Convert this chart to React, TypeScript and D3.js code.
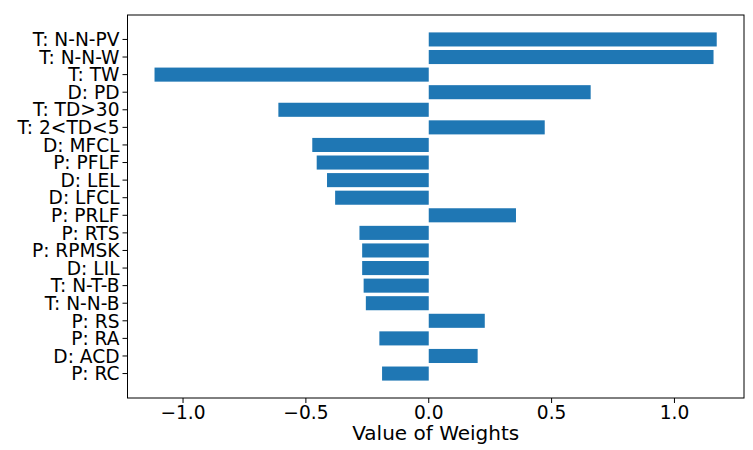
import { FC, useMemo } from 'react';
import * as d3 from 'd3';

const features = [
  'T: N-N-PV', 'T: N-N-W', 'T: TW', 'D: PD', 'T: TD>30', 'T: 2<TD<5',
  'D: MFCL', 'P: PFLF', 'D: LEL', 'D: LFCL', 'P: PRLF', 'P: RTS',
  'P: RPMSK', 'D: LIL', 'T: N-T-B', 'T: N-N-B', 'P: RS', 'P: RA',
  'D: ACD', 'P: RC',
];
const weights = [
  1.172, 1.159, -1.116, 0.659, -0.612, 0.472,
  -0.474, -0.456, -0.414, -0.381, 0.355, -0.282,
  -0.271, -0.271, -0.265, -0.256, 0.228, -0.201,
  0.199, -0.19,
];
const xTicks = [-1.0, -0.5, 0.0, 0.5, 1.0];

const WIDTH = 753, HEIGHT = 450;
const MARGIN = { top: 15, right: 9, bottom: 52, left: 127.5 };
const FONT = 'DejaVu Sans, sans-serif';

const App: FC = () => {
  const boundsWidth = WIDTH - MARGIN.left - MARGIN.right;
  const boundsHeight = HEIGHT - MARGIN.top - MARGIN.bottom;

  const xScale = useMemo(() =>
    d3.scaleLinear().domain([-1.226, 1.283]).range([0, boundsWidth]), [boundsWidth]);

  // matplotlib barh: index positions, bar height 0.8, 5% margins
  const n = features.length;
  const yScale = useMemo(() =>
    d3.scaleLinear().domain([-1.39, n - 1 + 1.39]).range([0, boundsHeight]), [n, boundsHeight]);

  const barH = yScale(0.8) - yScale(0);

  return (
    <svg width={WIDTH} height={HEIGHT} style={{ position: 'absolute', top: 0, left: 0 }}
      fontFamily={FONT}>
      <rect width={WIDTH} height={HEIGHT} fill="#fff" />
      <g transform={`translate(${MARGIN.left},${MARGIN.top})`}>
        {weights.map((w, i) => (
          <rect key={features[i]}
            x={xScale(Math.min(0, w))}
            y={yScale(i) - barH / 2}
            width={Math.abs(xScale(w) - xScale(0))}
            height={barH}
            fill="#1f77b4" />
        ))}
        <rect x={0} y={0} width={boundsWidth} height={boundsHeight}
          fill="none" stroke="#000" strokeWidth={1} />
        {features.map((f, i) => (
          <g key={f} transform={`translate(0,${yScale(i)})`}>
            <line x1={-5} x2={0} stroke="#000" strokeWidth={1} />
            <text x={-8} dy="0.36em" textAnchor="end" fontSize={18.6} fill="#000">{f}</text>
          </g>
        ))}
        {xTicks.map((t) => (
          <g key={t} transform={`translate(${xScale(t)},${boundsHeight})`}>
            <line y1={0} y2={5} stroke="#000" strokeWidth={1} />
            <text y={20.5} textAnchor="middle" fontSize={18.6} fill="#000">
              {t < 0 ? '\u2212' + Math.abs(t).toFixed(1) : t.toFixed(1)}
            </text>
          </g>
        ))}
        <text x={boundsWidth / 2} y={boundsHeight + 42} textAnchor="middle"
          fontSize={20} fill="#000">Value of Weights</text>
      </g>
    </svg>
  );
};

export default App;
